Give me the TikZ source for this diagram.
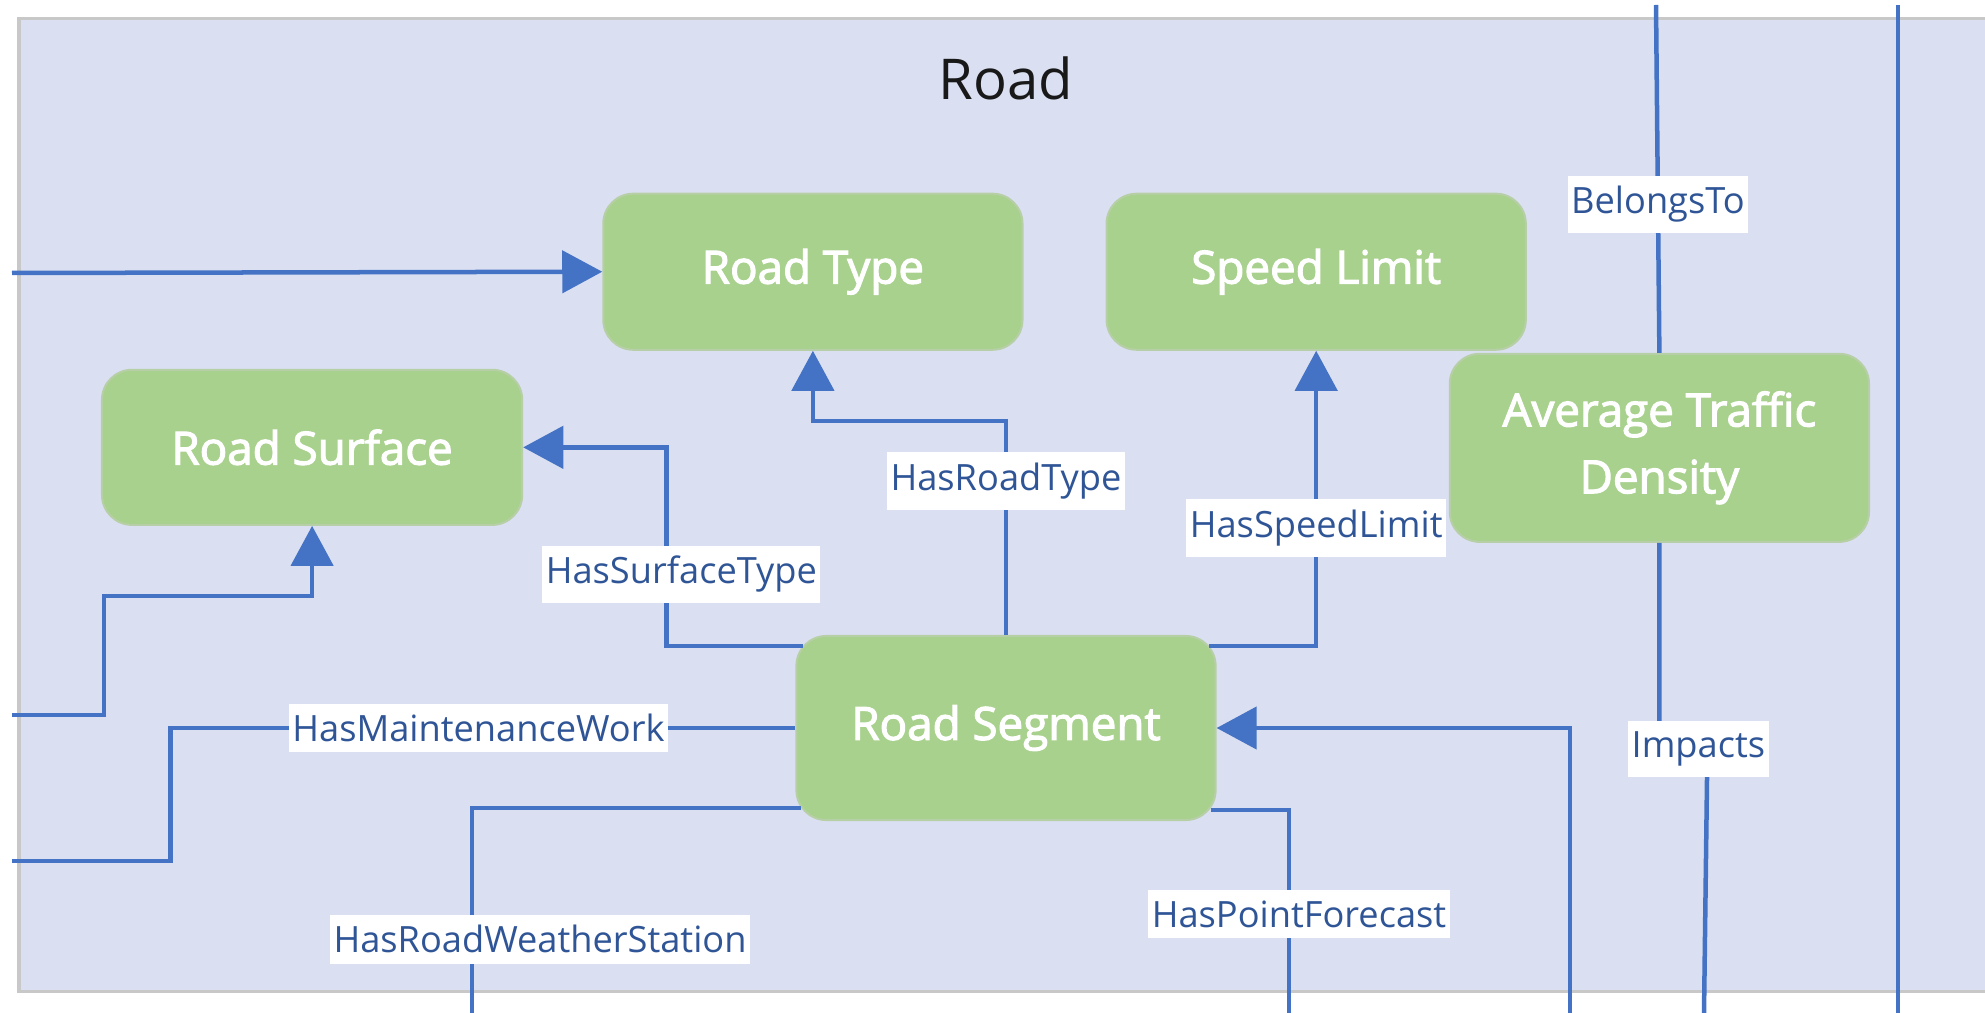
\documentclass[tikz,border=0pt]{standalone}
\usepackage{fontspec}
\setmainfont{Open Sans}
\newfontfamily\boxfont{Open Sans}[FakeBold=2.5]
\usetikzlibrary{positioning,arrows.meta}
\definecolor{panelfill}{HTML}{DAE0F2}
\definecolor{panelline}{HTML}{C8C8C8}
\definecolor{boxfill}{HTML}{A9D18E}
\definecolor{boxline}{HTML}{B7CFA6}
\definecolor{linkblue}{HTML}{4472C4}
\definecolor{lblblue}{HTML}{2F5597}

\tikzset{
  box/.style={draw=boxline, line width=0.02cm, fill=boxfill, rounded corners=0.3cm,
    minimum width=4.19cm, minimum height=1.56cm, align=center, text=white,
    font=\boxfont\fontsize{13}{19}\selectfont},
  rel/.style={draw=linkblue, line width=0.045cm},
  relarrow/.style={rel, -{Triangle[length=0.4cm,width=0.42cm]}},
  lbl/.style={fill=white, text=lblblue, inner xsep=1pt, inner ysep=3pt,
    font=\fontsize{10.3}{12}\selectfont}
}

\begin{document}
\begin{tikzpicture}[x=0.01cm, y=-0.01cm, node distance={20mm}]
    \useasboundingbox (0,0) rectangle (1985,1013);
    \fill[panelfill] (19,19) rectangle (1985,991);
    \draw[panelline, line width=0.03cm] (1985,19) -- (19,19) -- (19,991) -- (1985,991);
    \node[font=\fontsize{16}{18}\selectfont, text=black!90] (title) at (1006,78) {Road};

    \node[box, minimum height=1.84cm] (seg) at (1006,728) {Road Segment};
    \node[box] (type) [above=2.84cm of seg, xshift=-1.93cm] {Road Type};
    \node[box] (speed) [right=0.82cm of type] {Speed Limit};
    \node[box, minimum width=4.2cm, minimum height=1.55cm] (surf) [below left=0.18cm and 0.79cm of type] {Road Surface};
    \node[box, minimum height=1.88cm] (dens) [right=2.32cm of seg, yshift=2.8cm] {Average Traffic\\Density};

    \coordinate (inType) at (12,273);
    \coordinate (inSurf) at (12,715);
    \coordinate (outMaint) at (12,861);
    \coordinate (outWeather) at (472,1013);
    \coordinate (outForecast) at (1289,1013);
    \coordinate (inSeg) at (1570,1013);
    \coordinate (topBelong) at (1656,5);
    \coordinate (outImpact) at (1704,1013);
    \coordinate (topR) at (1898,5);
    \coordinate (botR) at (1898,1013);

    \draw[relarrow] (inType) -- (type.west);
    \draw[relarrow] (inSurf) -| ++(92,-119) -| (surf.south);
    \draw[relarrow] ([xshift=0.08cm,yshift=0.82cm]seg.west) -- ++(-137,0)
      |- node[lbl, pos=0.18, xshift=0.15cm] {HasSurfaceType} (surf.east);
    \draw[relarrow] (seg.north) -- node[lbl, pos=0.72] {HasRoadType} ++(0,-214) -| (type.south);
    \draw[relarrow] ([xshift=-0.08cm,yshift=0.82cm]seg.east)
      -| node[lbl, pos=0.7] {HasSpeedLimit} (speed.south);
    \draw[rel] (seg.west) -- node[lbl, pos=0.507] {HasMaintenanceWork} ++(-625,0) |- (outMaint);
    \draw[rel] ([xshift=0.06cm,yshift=-0.8cm]seg.west)
      -| node[lbl, pos=0.82, xshift=0.68cm] {HasRoadWeatherStation} (outWeather);
    \draw[rel] ([xshift=-0.06cm,yshift=-0.82cm]seg.east)
      -| node[lbl, pos=0.756, xshift=0.1cm] {HasPointForecast} (outForecast);
    \draw[relarrow] (inSeg) |- (seg.east);
    \draw[rel] (dens.north) -- node[lbl, pos=0.427] {BelongsTo} (topBelong);
    \draw[rel] (dens.south) -- ++(0,206) -- node[lbl, xshift=0.15cm] {Impacts} ++(48,0) -- (outImpact);
    \draw[rel] (topR) -- (botR);
\end{tikzpicture}
\end{document}
